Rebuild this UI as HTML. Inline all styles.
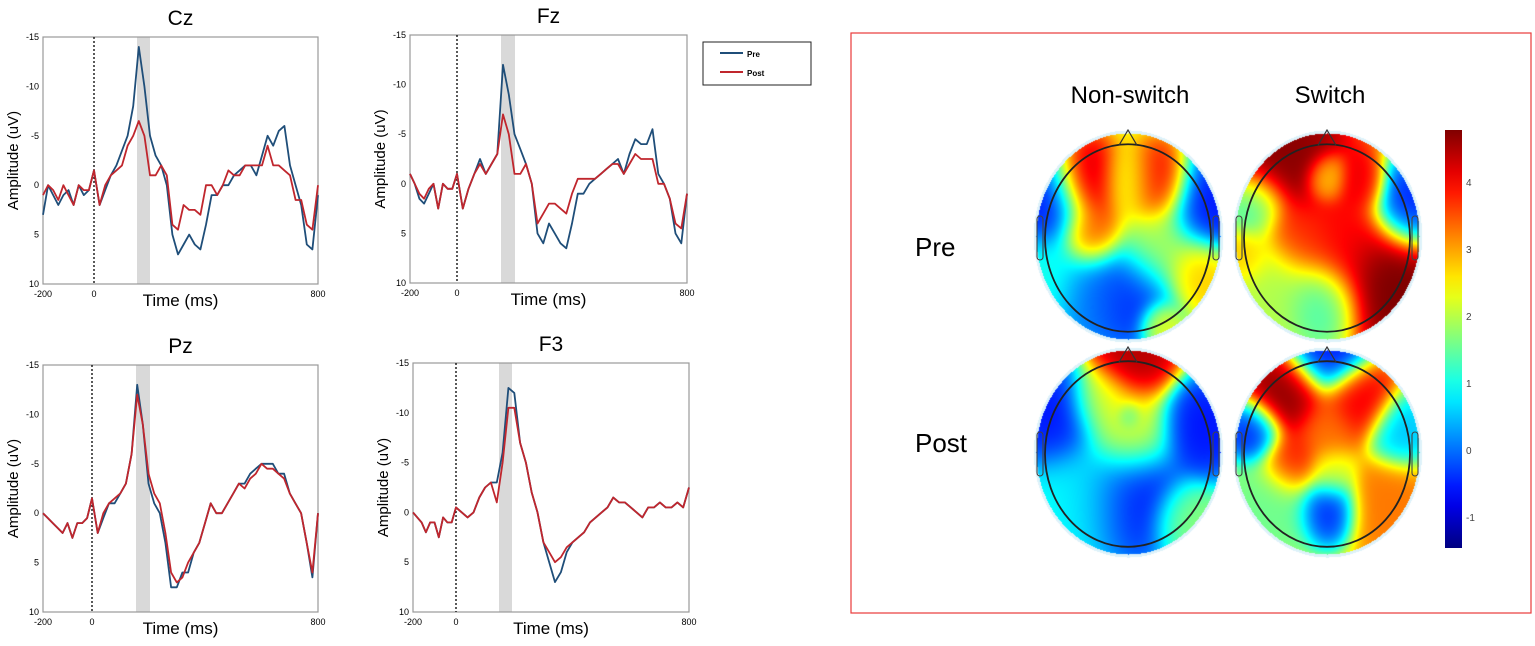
<!DOCTYPE html>
<html><head><meta charset="utf-8"><style>
body{margin:0;background:#fff;width:1535px;height:646px;overflow:hidden;font-family:"Liberation Sans",sans-serif;position:relative}
svg text{font-family:"Liberation Sans",sans-serif}
#cv{position:absolute;left:0;top:0}
#fig{position:absolute;left:0;top:0}
</style></head><body>
<canvas id="cv" width="1535" height="646"></canvas>
<svg id="fig" width="1535" height="646" xmlns="http://www.w3.org/2000/svg">
<defs></defs>
<g id="erp"></g>
<g>
<rect x="703" y="42" width="108" height="43" fill="#fff" stroke="#222" stroke-width="1"/>
<line x1="720" y1="53" x2="743" y2="53" stroke="#1f4e79" stroke-width="2"/>
<text x="747" y="57" font-size="8" font-weight="bold">Pre</text>
<line x1="720" y1="72" x2="743" y2="72" stroke="#c0262d" stroke-width="2"/>
<text x="747" y="76" font-size="8" font-weight="bold">Post</text>
</g>
<rect x="851" y="33" width="680" height="580" fill="none" stroke="#e83a3a" stroke-width="1.2"/>
<text x="1130" y="103" font-size="24" text-anchor="middle">Non-switch</text>
<text x="1330" y="103" font-size="24" text-anchor="middle">Switch</text>
<text x="915" y="256" font-size="26">Pre</text>
<text x="915" y="452" font-size="26">Post</text>
<g id="topo"></g>
<g id="cbar"></g>
</svg>
<script>
const NS='http://www.w3.org/2000/svg';
function mk(tag,attrs,parent){const e=document.createElementNS(NS,tag);for(const k in attrs)e.setAttribute(k,attrs[k]);parent.appendChild(e);return e;}
const times=[-200,-180,-160,-140,-120,-100,-80,-60,-40,-20,0,20,40,60,80,100,120,140,160,180,200,220,240,260,280,300,320,340,360,380,400,420,440,460,480,500,520,540,560,580,600,620,640,660,680,700,720,740,760,780,800];
const yTicks=[-15,-10,-5,0,5,10];
const czPre=[3,0,1,2,1,0.5,2,0,1,0.5,-1.5,2,0.5,-1,-2,-3.5,-5,-8,-14,-10,-5,-3,-2,0,5,7,6,5,6,6.5,4,1,1,0,0,-1,-1.5,-2,-2,-1,-3,-5,-4,-5.5,-6,-2,0,2,6,6.5,1];
const czPost=[1,0,0.5,1.5,0,1,2,0,0.5,0.5,-1.5,2,0,-1,-1.5,-2,-4,-5,-6.5,-5,-1,-1,-2,-1,4,4.5,2,2.5,2.5,3,0,0,1,0,-1.5,-1,-1,-2,-2,-2,-2,-4,-2,-2,-1.5,-1,1.5,1.5,4,4.5,0];
const fzPre=[-1,0,1.5,2,1,0,2.5,0,0.5,0.5,-1,2.5,0.5,-1,-2.5,-1,-2,-3,-12,-9,-5,-3.5,-2,0,5,6,4,5,6,6.5,4,1,1,0,-0.5,-1,-1.5,-2,-2.5,-1,-3,-4.5,-4,-4,-5.5,-1,0,1.5,5,6,1];
const fzPost=[-1,0,1,1.5,0.5,0,2.5,0,0.5,0.5,-1,2.5,0.5,-1,-2,-1,-2,-3,-7,-5,-1,-1,-2,0,4,3,2,2,2.5,3,1,-0.5,-0.5,-0.5,-0.5,-1,-1.5,-2,-2,-1,-2,-3,-2.5,-2.5,-2.5,0,0,1.5,4,4.5,1];
const pzPre=[0,0.5,1,1.5,2,1,2.5,1,1,0.5,-1.5,2,0.5,-1,-1,-2,-3,-6,-13,-9,-3,-1,0,3,7.5,7.5,6,6,4,3,1,-1,0,0,-1,-2,-3,-3,-4,-4.5,-5,-5,-5,-4,-4,-2,-1,0,3,6.5,0];
const pzPost=[0,0.5,1,1.5,2,1,2.5,1,1,0.5,-1.5,2,0,-1,-1.5,-2,-3,-6,-12,-9,-4,-2,-1,2,6,7,6.5,5,4,3,1,-1,0,0,-1,-2,-3,-2.5,-3.5,-4,-5,-4.5,-4.5,-4,-3.5,-2,-1,0,3,6,0];
const f3Pre=[0,0.5,1,2,1,1,2.5,0.5,1,1,-0.5,0,0.5,0,-1.5,-2.5,-3,-3,-6,-12.5,-12,-7,-5,-2,0,3,5,7,6,4,3,2.5,2,1,0.5,0,-0.5,-1.5,-1,-1,-0.5,0,0.5,-0.5,-0.5,-1,-0.5,-0.5,-1,-0.5,-2.5];
const f3Post=[0,0.5,1,2,1,1,2.5,0.5,1,1,-0.5,0,0.5,0,-1.5,-2.5,-3,-1,-5,-10.5,-10.5,-7,-5,-2,0,3,4,5,4.5,3.5,3,2.5,2,1,0.5,0,-0.5,-1.5,-1,-1,-0.5,0,0.5,-0.5,-0.5,-1,-0.5,-0.5,-1,-0.5,-2.5];
const panels=[
 {name:'Cz',pre:czPre,post:czPost,x0:43,xz:94,x1:318,y0:37,y1:284,shade:[137,150]},
 {name:'Fz',pre:fzPre,post:fzPost,x0:410,xz:457,x1:687,y0:35,y1:283,shade:[501,515]},
 {name:'Pz',pre:pzPre,post:pzPost,x0:43,xz:92,x1:318,y0:365,y1:612,shade:[136,150]},
 {name:'F3',pre:f3Pre,post:f3Post,x0:413,xz:456,x1:689,y0:363,y1:612,shade:[499,512]}];
const erp=document.getElementById('erp');
panels.forEach(p=>{
 const g=mk('g',{},erp);
 
 
 const xs=t=>t<0?p.x0+(t+200)/200*(p.xz-p.x0):p.xz+t/800*(p.x1-p.xz);
 const ys=v=>p.y0+(v+15)/25*(p.y1-p.y0);
 const cx=(p.x0+p.x1)/2;
 const tt=mk('text',{x:cx,y:p.y0-12,'font-size':21,'text-anchor':'middle'},g);tt.textContent=p.name;
 
 const sh=mk('rect',{x:p.shade[0],y:p.y0,width:p.shade[1]-p.shade[0],height:p.y1-p.y0,fill:'#d9d9d9'},g);
 
 mk('rect',{x:p.x0,y:p.y0,width:p.x1-p.x0,height:p.y1-p.y0,fill:'none',stroke:'#999','stroke-width':1.2},g);
 mk('line',{x1:p.xz,y1:p.y0,x2:p.xz,y2:p.y1,stroke:'#000','stroke-width':1.3,'stroke-dasharray':'2,2'},g);
 yTicks.forEach(v=>{const t=mk('text',{x:p.x0-4,y:ys(v)+3,'font-size':9,'text-anchor':'end'},g);t.textContent=v;
  });
 [[-200,'-200'],[0,'0'],[800,'800']].forEach(([t,l])=>{const e=mk('text',{x:xs(t),y:p.y1+13,'font-size':9,'text-anchor':'middle'},g);e.textContent=l;
  });
 const xl=mk('text',{x:cx,y:p.y1+22,'font-size':17,'text-anchor':'middle'},g);xl.textContent='Time (ms)';
 
 const yy=(p.y0+p.y1)/2,yx=p.x0-25;
 const yl=mk('text',{x:yx,y:yy,'font-size':15,'text-anchor':'middle',transform:`rotate(-90 ${yx} ${yy})`},g);yl.textContent='Amplitude (uV)';
 
 [['pre','#1f4e79'],['post','#c0262d']].forEach(([k,c])=>{
  const pts=times.map((t,i)=>xs(t).toFixed(1)+','+ys(p[k][i]).toFixed(1)).join(' ');
  const l=mk('polyline',{points:pts,fill:'none',stroke:c,'stroke-width':1.8,'stroke-linejoin':'round'},g);
  });
});
function jetRGB(v){const t=Math.max(0,Math.min(1,(v+1.5)/6.3));
 const f=x=>Math.max(0,Math.min(1,x));
 return [f(1.5-Math.abs(4*t-3))*255,f(1.5-Math.abs(4*t-2))*255,f(1.5-Math.abs(4*t-1))*255].map(Math.round);}
function jet(v){const c=jetRGB(v);return `rgb(${c[0]},${c[1]},${c[2]})`;}
const nsPreBlobs=[[-0.42,-0.5,4.7,0.17],[0.3,-0.5,4.3,0.16],[-0.4,-0.02,3.7,0.15],[-0.85,-0.3,-0.7,0.2],[0.85,-0.3,-0.7,0.2],[0,0.55,-0.6,0.22],[-0.4,0.55,0,0.2],[0.75,0.35,2.8,0.15],[-0.9,0.4,1.0,0.2],[0,-0.5,2.0,0.15],[0.35,0.85,2.6,0.1],[0.3,0.1,2.0,0.2]];
const sPreBlobs=[[-0.5,-0.75,4.8,0.25],[0.9,-0.3,-0.7,0.18],[-0.8,-0.3,1.0,0.15],[-0.6,0.5,1.9,0.25],[-0.05,0.65,1.1,0.18],[0.65,0.45,4.9,0.25],[0,-0.55,2.5,0.1],[0.35,-0.5,4.2,0.12],[0.15,0.05,4.0,0.22],[-0.3,0,3.8,0.16],[-0.9,0.2,2.9,0.12]];
const nsPostBlobs=[[0.05,-0.95,4.6,0.2],[-0.78,-0.35,-0.7,0.22],[0.8,-0.25,-0.7,0.2],[0.05,0.45,-0.7,0.25],[-0.5,0.45,0.8,0.25],[0.6,0.65,1.8,0.15],[0,-0.2,2.3,0.2],[-0.3,-0.5,2.3,0.15],[0,-0.35,1.2,0.06]];
const sPostBlobs=[[0,-1.0,-0.7,0.18],[-0.45,-0.55,4.8,0.18],[0.35,-0.5,4.2,0.16],[-0.8,-0.2,-0.7,0.13],[0.8,-0.2,0.4,0.15],[-0.38,0.1,4.1,0.14],[0,0.55,-0.7,0.14],[-0.6,0.5,1.5,0.22],[0.65,0.5,3.3,0.2],[0,-0.2,3.3,0.15],[0.05,0.2,2.2,0.12]];
const heads=[{n:'nonswitch-pre',cx:1128,cy:236,ry:103,base:2.1,b:nsPreBlobs},{n:'switch-pre',cx:1327,cy:236,ry:103,base:3.4,b:sPreBlobs},
 {n:'nonswitch-post',cx:1128,cy:452,ry:102,base:1.8,b:nsPostBlobs},{n:'switch-post',cx:1327,cy:452,ry:102,base:2.6,b:sPostBlobs}];
const ctx=document.getElementById('cv').getContext('2d');
const topo=document.getElementById('topo');
heads.forEach(h=>{
 const rx=92;
 const x0=Math.floor(h.cx-rx-4),y0=Math.floor(h.cy-h.ry-4),w=2*rx+8,hh=2*h.ry+8;
 const img=ctx.createImageData(w,hh);
 for(let j=0;j<hh;j++)for(let i=0;i<w;i++){
  const nx=(x0+i-h.cx)/rx,ny=(y0+j-h.cy)/h.ry,r2=nx*nx+ny*ny;
  const k=(j*w+i)*4;
  if(r2>1.06)continue;
  if(r2>1){img.data[k]=222;img.data[k+1]=242;img.data[k+2]=250;img.data[k+3]=255;continue;}
  let sw=0.05,sv=0.05*h.base;
  h.b.forEach(b=>{const s=b[3]*1.2;const d=(nx-b[0])**2+(ny-b[1])**2;const wt=Math.exp(-d/(2*s*s));sw+=wt;sv+=wt*b[2];});
  const c=jetRGB(sv/sw);
  img.data[k]=c[0];img.data[k+1]=c[1];img.data[k+2]=c[2];img.data[k+3]=255;}
 ctx.putImageData(img,x0,y0);
 const g=mk('g',{},topo);
 
 const ory=h.ry*0.91;
 mk('ellipse',{cx:h.cx,cy:h.cy+2,rx:rx-9,ry:ory,fill:'none',stroke:'#222','stroke-width':1.8},g);
 mk('path',{d:`M${h.cx-9} ${h.cy+2-ory+1} L${h.cx} ${h.cy-h.ry-3} L${h.cx+9} ${h.cy+2-ory+1}`,fill:'none',stroke:'#333','stroke-width':1.2},g);
 [-1,1].forEach(s=>mk('rect',{x:s<0?h.cx-rx+1:h.cx+rx-7,y:h.cy-20,width:6,height:44,rx:3,fill:'none',stroke:'#444','stroke-width':1.1},g));
});
const cb=document.getElementById('cbar');
const grad=mk('linearGradient',{id:'jetg',x1:0,y1:1,x2:0,y2:0},cb);
for(let k=0;k<=20;k++){mk('stop',{offset:k/20,'stop-color':jet(-1.5+k*0.315)},grad);}
mk('rect',{x:1445,y:130,width:17,height:418,fill:'url(#jetg)'},cb);
const cbTicks=[4,3,2,1,0,-1];
cbTicks.forEach(v=>{const y=450-v*67;const t=mk('text',{x:1466,y:y+4,'font-size':10,fill:'#444'},cb);t.textContent=v;
 });
</script>
</body></html>
